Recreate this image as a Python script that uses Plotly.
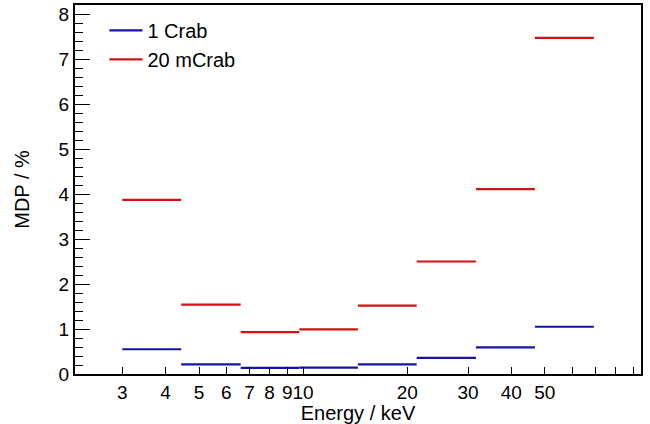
import plotly.graph_objects as go

# Energy bin edges (keV)
bin_edges = [3.0, 4.44, 6.6, 9.75, 14.4, 21.3, 31.6, 46.8, 69.3]
# MDP values (%) per bin
mdp_1crab = [0.55, 0.215, 0.135, 0.14, 0.215, 0.36, 0.59, 1.05]
mdp_20mcrab = [3.87, 1.54, 0.93, 0.99, 1.52, 2.50, 4.11, 7.47]

x_tickvals = [3, 4, 5, 6, 7, 8, 9, 10, 20, 30, 40, 50, 60, 70, 80, 90]
x_ticktext = ["3", "4", "5", "6", "7", "8", "9", "10", "20", "30", "40", "50", "", "", "", ""]


def steps(edges, vals):
    xs, ys = [], []
    for i, v in enumerate(vals):
        xs += [edges[i], edges[i + 1], None]
        ys += [v, v, None]
    return xs, ys


fig = go.Figure()
for name, vals, col in [("1 Crab", mdp_1crab, "#1414a0"),
                        ("20 mCrab", mdp_20mcrab, "#d01414")]:
    xs, ys = steps(bin_edges, vals)
    fig.add_trace(go.Scatter(x=xs, y=ys, mode="lines", name=name,
                             line=dict(color=col, width=2.2),
                             connectgaps=False))

fam = "Liberation Sans, Arial, sans-serif"
tfont = dict(family=fam, size=19, color="black")
lfont = dict(family=fam, size=20, color="black")

fig.update_layout(
    width=650, height=424,
    margin=dict(l=75, r=9, t=5, b=50),
    paper_bgcolor="white", plot_bgcolor="white",
    font=lfont,
    showlegend=True,
    legend=dict(x=0.052, y=0.984, xanchor="left", yanchor="top",
                bgcolor="rgba(255,255,255,0)", font=lfont,
                itemwidth=33, tracegroupgap=0),
)
fig.update_xaxes(
    type="log", range=[0.3404, 1.977],
    tickvals=x_tickvals, ticktext=x_ticktext, tickangle=0,
    ticks="inside", ticklen=7, tickwidth=1, tickcolor="black",
    showline=True, linecolor="black", linewidth=2, mirror=True,
    showgrid=False, zeroline=False, automargin=False,
    title=dict(text="Energy / keV", font=lfont, standoff=0),
    tickfont=tfont,
)
fig.update_yaxes(
    range=[0, 8.2], tickvals=[0, 1, 2, 3, 4, 5, 6, 7, 8],
    ticks="inside", ticklen=15, tickwidth=1, tickcolor="black",
    minor=dict(dtick=0.2, ticks="inside", ticklen=8, tickcolor="black", showgrid=False),
    showline=True, linecolor="black", linewidth=2, mirror=True,
    showgrid=False, zeroline=False, automargin=False,
    title=dict(text="MDP / %", font=lfont, standoff=24),
    tickfont=tfont,
)

fig.write_html("out.html", config={"displayModeBar": False},
               post_script="document.body.style.margin='0';document.body.style.overflow='hidden';")
